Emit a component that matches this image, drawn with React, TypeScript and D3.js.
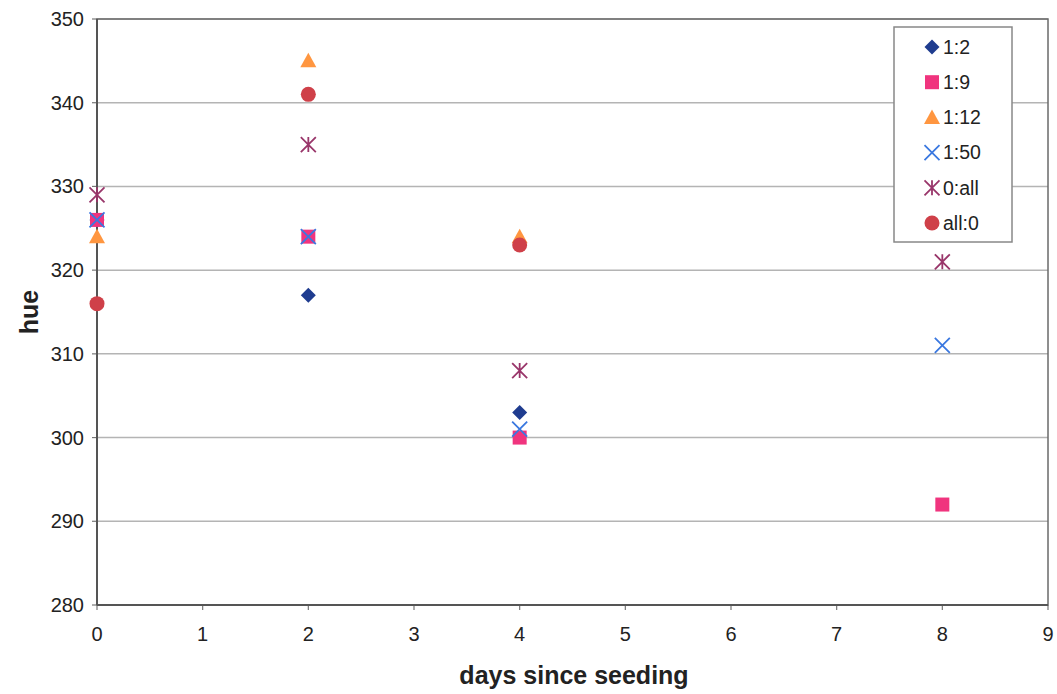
import React from "react";
import * as d3 from "d3";

const days = [0, 2, 4, 8];
const series12 = [326, 317, 303, null];
const series19 = [326, 324, 300, 292];
const series112 = [324, 345, 324, null];
const series150 = [326, 324, 301, 311];
const series0all = [329, 335, 308, 321];
const seriesAll0 = [316, 341, 323, null];

const xTicks = [0, 1, 2, 3, 4, 5, 6, 7, 8, 9];
const yTicks = [280, 290, 300, 310, 320, 330, 340, 350];

const seriesList = [
  { name: "1:2", values: series12, color: "#1f3c8f", shape: "diamond" },
  { name: "1:9", values: series19, color: "#f0347e", shape: "square" },
  { name: "1:12", values: series112, color: "#ff9640", shape: "triangle" },
  { name: "1:50", values: series150, color: "#3a78e0", shape: "x" },
  { name: "0:all", values: series0all, color: "#99366a", shape: "star" },
  { name: "all:0", values: seriesAll0, color: "#cf4049", shape: "circle" },
];

const W = 1057;
const H = 694;
const left = 97;
const right = 1048;
const top = 19;
const bottom = 605;

function Marker({ shape, color, x, y }: { shape: string; color: string; x: number; y: number }) {
  if (shape === "diamond") {
    const s = 7.5;
    return <path d={`M${x},${y - s}L${x + s},${y}L${x},${y + s}L${x - s},${y}Z`} fill={color} />;
  }
  if (shape === "square") {
    return <rect x={x - 7} y={y - 7} width={14} height={14} fill={color} />;
  }
  if (shape === "triangle") {
    return <path d={`M${x},${y - 8}L${x + 8},${y + 6.5}L${x - 8},${y + 6.5}Z`} fill={color} />;
  }
  if (shape === "x") {
    const s = 7.5;
    return (
      <path d={`M${x - s},${y - s}L${x + s},${y + s}M${x - s},${y + s}L${x + s},${y - s}`} stroke={color} strokeWidth={1.8} fill="none" />
    );
  }
  if (shape === "star") {
    const s = 7.5;
    return (
      <path
        d={`M${x - s},${y - s}L${x + s},${y + s}M${x - s},${y + s}L${x + s},${y - s}M${x},${y - s}L${x},${y + s}`}
        stroke={color}
        strokeWidth={1.8}
        fill="none"
      />
    );
  }
  return <circle cx={x} cy={y} r={7.5} fill={color} />;
}

export default function App() {
  const xScale = d3.scaleLinear().domain([0, 9]).range([left, right]);
  const yScale = d3.scaleLinear().domain([280, 350]).range([bottom, top]);
  const font = "'Liberation Sans', Arial, sans-serif";

  const legendX = 894;
  const legendY = 27;
  const legendW = 118;
  const legendH = 215;
  const legendStep = 35.2;

  return (
    <svg width={W} height={H} style={{ position: "absolute", left: 0, top: 0 }} fontFamily={font}>
      <rect x={0} y={0} width={W} height={H} fill="#fff" />
      {yTicks.map((t) => (
        <g key={"y" + t}>
          <line x1={left} x2={right} y1={yScale(t)} y2={yScale(t)} stroke="#b4b4b4" strokeWidth={1.5} />
          <line x1={left - 5} x2={left} y1={yScale(t)} y2={yScale(t)} stroke="#777" strokeWidth={1.2} />
          <text x={84} y={yScale(t)} dy="0.35em" textAnchor="end" fontSize={20} fill="#222">
            {t}
          </text>
        </g>
      ))}
      {xTicks.map((t) => (
        <g key={"x" + t}>
          <line x1={xScale(t)} x2={xScale(t)} y1={bottom} y2={bottom + 5} stroke="#777" strokeWidth={1.2} />
          <text x={xScale(t)} y={641} textAnchor="middle" fontSize={20} fill="#222">
            {t}
          </text>
        </g>
      ))}
      <rect x={left} y={top} width={right - left} height={bottom - top} fill="none" stroke="#6a6a6a" strokeWidth={1.5} />
      <line x1={left} x2={left} y1={top} y2={bottom} stroke="#555" strokeWidth={2} />
      <line x1={left} x2={right} y1={bottom} y2={bottom} stroke="#555" strokeWidth={2} />

      {seriesList.map((s) =>
        s.values.map((v, i) =>
          v == null ? null : <Marker key={s.name + i} shape={s.shape} color={s.color} x={xScale(days[i])} y={yScale(v)} />
        )
      )}

      <rect x={legendX} y={legendY} width={legendW} height={legendH} fill="#fff" stroke="#888" strokeWidth={1.5} />
      {seriesList.map((s, i) => {
        const cy = legendY + 20 + i * legendStep;
        return (
          <g key={"lg" + s.name}>
            <Marker shape={s.shape} color={s.color} x={932} y={cy} />
            <text x={943} y={cy} dy="0.35em" fontSize={19.5} fill="#222">
              {s.name}
            </text>
          </g>
        );
      })}

      <text x={574} y={684} textAnchor="middle" fontSize={25} fontWeight="bold" fill="#222">
        days since seeding
      </text>
      <text transform="translate(38,312) rotate(-90)" textAnchor="middle" fontSize={25} fontWeight="bold" fill="#222">
        hue
      </text>
    </svg>
  );
}
